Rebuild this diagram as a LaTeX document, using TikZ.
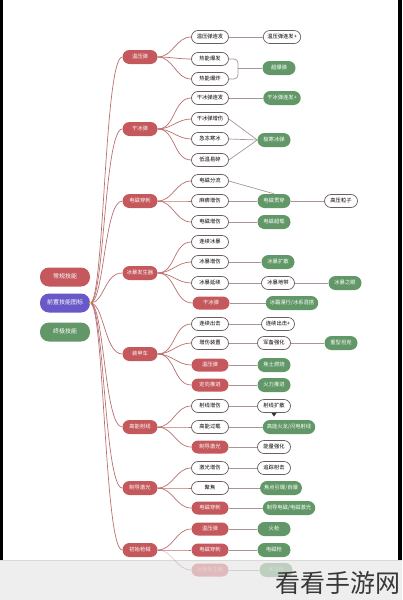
\documentclass[tikz,border=0pt]{standalone}
\usepackage{fontspec}
\setmainfont{Noto Sans CJK SC}
\definecolor{nred}{RGB}{196,88,92}
\definecolor{ngreen}{RGB}{98,152,104}
\definecolor{npurple}{RGB}{104,88,200}
\definecolor{nborder}{RGB}{105,95,95}
\definecolor{lred}{RGB}{186,112,112}
\definecolor{lgrey}{RGB}{168,150,150}
\definecolor{band}{RGB}{238,238,238}
\tikzset{
  base/.style={rectangle, rounded corners=6.5pt, minimum height=13pt, inner xsep=4pt, inner ysep=0pt,
    font=\fontsize{5.3}{6}\selectfont, text height=4.3pt, text depth=1pt},
  rootnode/.style={base, rounded corners=9pt, minimum width=50pt, minimum height=19pt, text=white, font=\fontsize{6}{7}\selectfont},
  lone/.style={base, fill=nred, text=white, minimum width=35pt, minimum height=14pt, rounded corners=7pt},
  ltwo/.style={base, fill=white, draw=nborder, line width=0.7pt, minimum width=37pt},
  ltwored/.style={base, fill=nred, text=white, minimum width=37pt},
  lwhite/.style={base, fill=white, draw=nborder, line width=0.7pt, minimum width=33pt},
  lgreen/.style={base, fill=ngreen, text=white, minimum width=33pt, minimum height=14pt, rounded corners=7pt},
  trunk/.style={draw=lred, line width=0.7pt},
  conn/.style={draw=lgrey, line width=0.7pt},
  faded/.style={opacity=0.35},
}
\begin{document}
\begin{tikzpicture}[x=1pt,y=-1pt]
\useasboundingbox (0,0) rectangle (402,600);
\fill[white] (0,0) rectangle (402,600);
\fill[black] (0,0) rectangle (3,560);
\fill[black] (398,0) rectangle (402,560);

% root legend nodes
\node[rootnode, fill=nred] (r1) at (65,277) {常规技能};
\node[rootnode, fill=npurple] (r2) at (65,303) {前置技能图标};
\node[rootnode, fill=ngreen] (r3) at (65,332) {终极技能};

% level 1
\node[lone] (w) at (140,57) {温压弹};
\node[lone] (g) at (140,129) {干冰弹};
\node[lone] (d) at (140,201) {电磁穿刺};
\node[lone] (b) at (140,273) {冰暴发生器};
\node[lone] (z) at (140,354) {装甲车};
\node[lone] (s) at (140,427) {高能射线};
\node[lone] (j) at (140,488) {制导激光};
\node[lone] (c) at (140,550) {初始枪械};

% trunk
\foreach \n in {w,g,d,b,z,s,j,c}
  \draw[trunk] (r2.east) .. controls +(14,0) and +(-18,0) .. (\n.west);
\fill[yellow!80!orange] (r2.east) circle (1.2);

% 温压弹
\node[ltwo] (w1) at (210,37) {温压弹连发};
\node[lwhite] (w1a) at (282,37) {温压弹连发+};
\node[ltwo] (w2) at (210,59) {热能爆发};
\node[ltwo] (w3) at (210,79) {热能爆炸};
\node[lgreen] (w4) at (279,68) {超爆弹};
\coordinate (wb) at (238,68);
\draw[conn] (w1) -- (w1a);
\draw[conn, rounded corners=4pt] (w2.east) -| (wb);
\draw[conn, rounded corners=4pt] (w3.east) -| (wb);
\draw[conn] (wb) -- (w4.west);

% 干冰弹
\node[ltwo] (g1) at (210,98) {干冰弹连发};
\node[lgreen] (g1a) at (282,98) {干冰弹连发+};
\node[ltwo] (g2) at (210,119) {干冰弹增伤};
\node[ltwo] (g3) at (210,139) {急冻寒冰};
\node[ltwo] (g4) at (210,160) {低温易碎};
\node[lgreen] (g5) at (274,140) {极寒冰弹};
\draw[conn] (g1) -- (g1a);
\draw[conn] (g2.east) -- (g5.west);
\draw[conn] (g3.east) -- (g5.west);
\draw[conn] (g4.east) -- (g5.west);

% 电磁穿刺
\node[ltwo] (d1) at (210,181) {电磁分流};
\node[ltwo] (d2) at (210,201) {麻痹增伤};
\node[ltwo] (d3) at (210,222) {电磁增伤};
\node[lgreen] (d4) at (274,201) {电磁贯穿};
\node[lwhite] (d5) at (341,201) {高压粒子};
\node[lgreen] (d6) at (274,222) {电磁超载};
\draw[conn] (d1.east) -- (d4.north);
\draw[conn] (d2) -- (d4);
\draw[conn] (d4) -- (d5);
\draw[conn] (d3) -- (d6);

% 冰暴发生器
\node[ltwo] (b1) at (210,242) {连续冰暴};
\node[ltwo] (b2) at (210,262) {冰暴增伤};
\node[lgreen] (b2a) at (278,262) {冰暴扩散};
\node[ltwo] (b3) at (210,283) {冰暴延续};
\node[lwhite] (b3a) at (278,283) {冰暴地带};
\node[lgreen] (b3b) at (345,283) {冰暴之眼};
\node[ltwored] (b4) at (211,303) {干冰弹};
\node[lgreen] (b4a) at (292,303) {冰霜漫行/冰系混搭};
\draw[conn] (b2) -- (b2a);
\draw[conn] (b3) -- (b3a);
\draw[conn] (b3a) -- (b3b);
\draw[conn] (b4) -- (b4a);

% 装甲车
\node[ltwo] (z1) at (210,324) {连续出击};
\node[lwhite] (z1a) at (278,324) {连续出击+};
\node[ltwo] (z2) at (210,343) {增伤装置};
\node[lwhite] (z2a) at (274,343) {军备强化};
\node[lgreen] (z2b) at (341,343) {重型坦克};
\node[ltwored] (z3) at (210,365) {温压弹};
\node[lgreen] (z3a) at (274,365) {焦土燃烧};
\node[ltwored] (z4) at (210,385) {定向推进};
\node[lgreen] (z4a) at (274,385) {火力推进};
\draw[conn] (z1) -- (z1a);
\draw[conn] (z2) -- (z2a);
\draw[conn] (z2a) -- (z2b);
\draw[conn] (z3) -- (z3a);
\draw[conn] (z4) -- (z4a);

% 高能射线
\node[ltwo] (s1) at (210,406) {射线增伤};
\node[lwhite] (s1a) at (274,406) {射线扩散};
\node[ltwo] (s2) at (210,427) {高能过载};
\node[lgreen] (s2a) at (289,427) {高能火龙/闪电射线};
\node[ltwored] (s3) at (210,447) {制导激光};
\node[lwhite] (s3a) at (274,447) {能量强化};
\draw[conn] (s1) -- (s1a);
\draw[conn] (s2) -- (s2a);
\draw[conn] (s3) -- (s3a);
\fill[black!80] (271.5,413) -- (276.5,413) -- (274,416.5) -- cycle;

% 制导激光
\node[ltwo] (j1) at (210,468) {激光增伤};
\node[lwhite] (j1a) at (274,468) {追踪射击};
\node[ltwo] (j2) at (210,488) {聚焦};
\node[lgreen] (j2a) at (281,488) {焦点引爆/自爆};
\node[ltwored] (j3) at (210,508) {电磁穿刺};
\node[lgreen] (j3a) at (289,508) {制导电磁/电磁激光};
\draw[conn] (j1) -- (j1a);
\draw[conn] (j2) -- (j2a);
\draw[conn] (j3) -- (j3a);

% 初始枪械
\node[ltwored] (c1) at (210,529) {温压弹};
\node[lgreen] (c1a) at (274,529) {火枪};
\node[ltwored] (c2) at (210,550) {电磁穿刺};
\node[lgreen] (c2a) at (274,550) {电磁枪};

% level1 -> level2 connectors
\foreach \p/\k in {w/w1,w/w2,w/w3,g/g1,g/g2,g/g3,g/g4,d/d1,d/d2,d/d3,b/b1,b/b2,b/b3,b/b4,
                  z/z1,z/z2,z/z3,z/z4,s/s1,s/s2,s/s3,j/j1,j/j2,j/j3,c/c1,c/c2}
  \draw[trunk] (\p.east) to[out=0,in=180] (\k.west);
\draw[conn] (c1) -- (c1a);
\draw[conn] (c2) -- (c2a);

% bottom band
\fill[band] (0,560) rectangle (402,600);
\draw[black!15, line width=0.6pt] (0,560) -- (402,560);
\begin{scope}[faded]
\node[ltwored] (c3) at (210,570) {冰暴发生器};
\node[lgreen] (c3a) at (276,570) {冰冻枪};
\draw[trunk] (c.east) to[out=0,in=180] (c3.west);
\draw[conn] (c3) -- (c3a);
\end{scope}
\node[text=black!78, font=\fontsize{25}{27}\selectfont, inner sep=0pt] (wm) at (338,583) {看看手游网};
\end{tikzpicture}
\end{document}
